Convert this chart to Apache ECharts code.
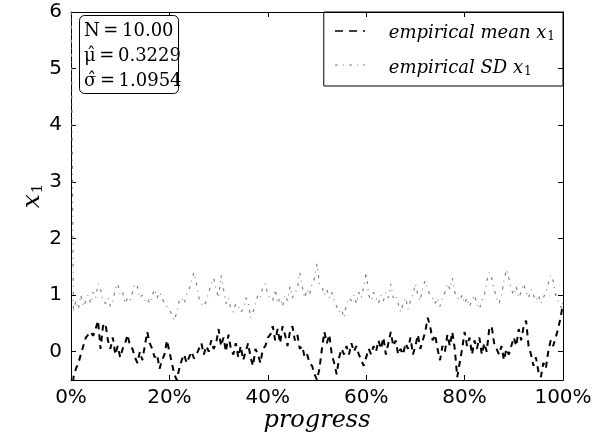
<!DOCTYPE html>
<html><head><meta charset="utf-8">
<script src="https://cdn.jsdelivr.net/npm/echarts@6/dist/echarts.min.js"></script>
<style>html,body{margin:0;padding:0;background:#fff}#c{width:600px;height:438px}</style>
</head><body><div id="c"></div>
<script>
const progressStep = 0.5;
const meanValues = [-1.5,-0.45,-0.3,-0.2,-0.05,0.1,0.25,0.3,0.35,0.28,0.4,0.55,0.05,0.45,0.5,0.2,0.05,0.25,-0.05,0.1,
-0.1,0.05,0.15,0.3,0.1,0.05,-0.1,-0.2,0.0,-0.15,0.1,0.35,0.15,0.05,-0.1,-0.05,-0.3,-0.15,-0.05,0.2,
0.0,-0.2,-0.4,-0.5,-0.3,-0.15,-0.05,-0.2,-0.1,0.0,-0.12,-0.05,0.05,0.15,-0.05,0.1,0.0,0.2,0.05,0.15,
0.4,0.1,0.25,0.0,0.3,0.05,-0.05,0.15,-0.1,0.1,-0.15,0.0,0.15,-0.1,-0.25,0.05,-0.05,-0.2,0.05,0.1,
0.25,0.3,0.45,0.2,0.4,0.15,0.45,0.3,0.1,0.35,0.45,0.2,0.3,0.05,0.1,-0.1,-0.05,-0.2,-0.25,-0.4,
-0.5,-0.3,0.05,0.35,0.15,0.3,-0.05,-0.2,-0.4,-0.1,0.05,-0.05,0.1,-0.05,0.15,0.0,0.1,-0.05,-0.15,-0.25,
-0.1,0.05,-0.05,0.1,0.0,0.2,0.05,0.25,-0.05,0.15,0.35,0.1,0.2,-0.05,0.05,-0.05,0.15,0.05,0.25,-0.05,
0.1,0.3,0.05,0.2,0.35,0.6,0.45,0.2,0.3,0.05,-0.15,0.1,0.0,0.3,0.1,0.35,0.05,-0.45,-0.2,0.05,
0.35,0.1,0.25,-0.05,0.2,0.05,0.25,-0.05,0.15,0.0,0.4,0.45,0.15,0.05,-0.05,0.1,-0.15,0.05,-0.05,0.1,
0.25,0.1,0.4,0.2,0.45,0.55,0.1,-0.05,-0.25,-0.1,-0.35,-0.45,-0.2,-0.3,0.0,0.2,0.1,0.25,0.4,0.6,
0.85];
const sdValues = [6.5,0.7,0.9,0.75,1.0,0.8,0.9,1.0,0.85,1.05,0.95,1.2,1.1,0.9,0.85,0.95,0.8,0.9,1.1,1.2,
1.0,1.05,0.85,0.95,0.9,1.05,1.2,1.15,0.95,1.0,0.9,0.95,0.85,1.0,1.1,0.95,1.05,0.95,0.85,0.8,
0.75,0.65,0.55,0.7,0.9,0.95,0.85,1.0,1.1,1.25,1.4,1.2,0.95,0.85,0.8,0.9,1.05,1.2,1.3,1.1,
0.95,1.35,1.1,0.85,0.95,0.75,0.7,0.85,0.8,0.7,0.75,0.95,0.9,0.6,0.7,0.85,1.0,0.95,1.15,1.2,
1.0,0.95,0.9,1.1,0.85,0.95,0.8,1.0,0.9,1.15,0.95,1.05,1.1,1.4,1.15,0.95,1.1,1.0,1.2,1.3,
1.55,1.2,1.15,1.0,1.1,0.95,1.05,0.9,0.8,0.7,0.75,0.6,0.85,0.95,0.9,1.0,0.85,1.05,0.95,1.15,
1.4,1.0,0.9,1.05,0.95,0.85,1.0,0.9,1.05,0.95,1.2,0.95,1.0,0.85,0.7,0.85,0.95,0.75,0.9,1.0,
1.2,1.0,0.9,1.15,1.25,1.1,1.0,0.95,0.85,0.95,0.8,0.95,1.05,1.2,1.1,1.3,1.05,0.95,0.9,1.0,
0.85,0.95,0.8,0.9,1.0,0.85,0.75,0.9,1.0,1.25,1.4,1.3,1.1,0.95,0.85,1.0,1.25,1.45,1.3,1.1,
1.0,1.15,0.95,1.05,1.2,1.05,0.95,1.1,1.0,0.9,1.0,0.85,0.95,1.05,1.2,1.35,1.25,1.0,0.9,0.8,
0.75];
const xTicks = [0,20,40,60,80,100];
const yTicks = [0,1,2,3,4,5,6];
const statLines = ['N\u2009=\u200910.00','\u03BC\u0302\u2009=\u20090.3229','\u03C3\u0302\u2009=\u20091.0954'];
const legendNames = ['empirical mean x1','empirical SD x1'];
const legendLabels = ['{t|empirical mean }{x|x}{s|1}','{t|empirical SD }{x|x}{s|1}'];

const meanData = meanValues.map((v,i)=>[i*progressStep, v]);
const sdData = sdValues.map((v,i)=>[i*progressStep, v]);

const chart = echarts.init(document.getElementById('c'), null, {renderer:'canvas'});
const tickFont = {fontFamily:'DejaVu Sans', fontSize:20, color:'#000'};
const axisCommon = {
  axisLine:{show:true, onZero:false, lineStyle:{color:'#000', width:1}},
  axisTick:{show:true, inside:true, length:5, lineStyle:{color:'#000', width:1}},
  splitLine:{show:false}
};
const serifIt = {fontFamily:'DejaVu Serif', fontStyle:'italic', color:'#000'};
chart.setOption({
  animation:false,
  grid:{left:71, right:37, top:12, bottom:58, show:false, containLabel:false, outerBoundsMode:'none'},
  legend:{
    orient:'vertical', right:37, top:12,
    padding:[12,8,8,10], itemGap:16,
    borderColor:'#000', borderWidth:1, borderRadius:0,
    itemWidth:30, itemHeight:14,
    formatter:function(name){ return legendLabels[legendNames.indexOf(name)]; },
    textStyle:{padding:[0,0,0,20], rich:{
      t:Object.assign({fontSize:18}, serifIt),
      x:Object.assign({fontSize:18}, serifIt),
      s:{fontFamily:'DejaVu Serif', fontSize:12, color:'#000', padding:[8,0,0,1]}
    }},
    data:[{name:legendNames[0], icon:'none'},{name:legendNames[1], icon:'none'}]
  },
  xAxis:[
    Object.assign({type:'value', min:0, max:100, interval:20, position:'bottom',
      name:'progress', nameLocation:'middle', nameGap:29, nameMoveOverlap:false,
      nameTextStyle:Object.assign({fontSize:24}, serifIt),
      axisLabel:Object.assign({formatter:'{value}%', margin:8}, tickFont)}, axisCommon),
    Object.assign({type:'value', min:0, max:100, interval:20, position:'top', axisLabel:{show:false}}, axisCommon)
  ],
  yAxis:[
    Object.assign({type:'value', min:-0.5, max:6, position:'left',
      name:'{x|x}{s|1}', nameLocation:'middle', nameGap:25, nameRotate:90, nameMoveOverlap:false,
      nameTextStyle:{rich:{
        x:Object.assign({fontSize:25}, serifIt),
        s:{fontFamily:'DejaVu Serif', fontSize:15, color:'#000', padding:[12,0,0,1]}
      }},
      axisLabel:Object.assign({customValues:yTicks, margin:9}, tickFont)}, axisCommon,
      {axisTick:{show:true, inside:true, length:5, customValues:yTicks, lineStyle:{color:'#000'}}}),
    Object.assign({type:'value', min:-0.5, max:6, position:'right', axisLabel:{show:false}}, axisCommon,
      {axisTick:{show:true, inside:true, length:5, customValues:yTicks, lineStyle:{color:'#000'}}})
  ],
  series:[
    {name:legendNames[0], type:'line', data:meanData, showSymbol:false, symbol:'none', clip:true,
     lineStyle:{color:'#000', width:2, type:[6,5]}, itemStyle:{color:'#000'}},
    {name:legendNames[1], type:'line', data:sdData, showSymbol:false, symbol:'none', clip:true,
     lineStyle:{color:'#808080', width:1.2, type:[3,5,1,5]}, itemStyle:{color:'#808080'}}
  ],
  graphic:[
    {type:'rect', left:79, top:15, shape:{width:99, height:78, r:5},
     style:{fill:'#fff', stroke:'#000', lineWidth:1}, z:100},
    {type:'text', left:84, top:19, z:101,
     style:{text:statLines.join('\n'), font:'18px "DejaVu Serif"', lineHeight:25, fill:'#000'}},
    {type:'line', shape:{x1:335,y1:31,x2:365,y2:31}, style:{stroke:'#000', lineWidth:1.5, lineDash:[8,6]}, z:101},
    {type:'line', shape:{x1:335,y1:65,x2:365,y2:65}, style:{stroke:'#808080', lineWidth:1, lineDash:[3,5,1,5]}, z:101}
  ]
});
</script></body></html>
